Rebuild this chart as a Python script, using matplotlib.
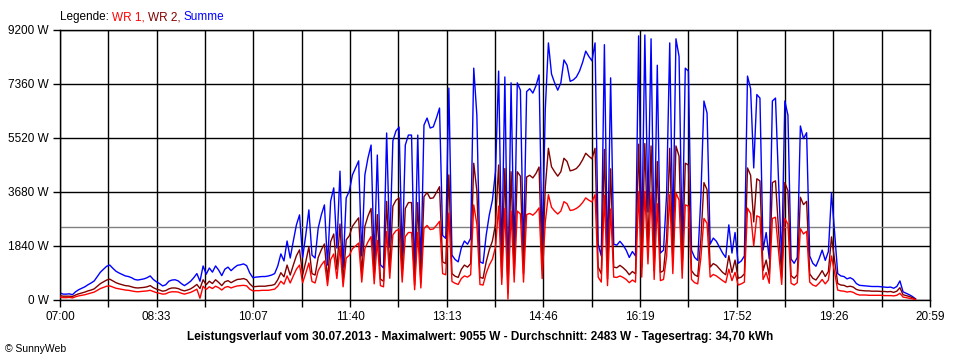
import numpy as np
import matplotlib.pyplot as plt

plt.rcParams['font.family'] = ['Liberation Sans', 'DejaVu Sans']

# Leistung in W, ein Wert alle 3 Minuten ab 07:00
summe = [240, 200, 200, 210, 180, 280, 350, 400, 450, 520,
         580, 650, 800, 950, 1050, 1150, 1190, 1080, 980, 920,
         870, 820, 800, 760, 700, 680, 700, 720, 760, 820,
         700, 620, 560, 480, 520, 640, 680, 690, 650, 560,
         490, 560, 640, 760, 900, 640, 1160, 880, 1090, 950,
         1160, 1020, 830, 1050, 1120, 1000, 1100, 1180, 1200, 1230,
         1170, 920, 760, 780, 790, 800, 800, 820, 850, 900,
         1160, 1570, 1330, 2010, 1430, 2010, 2560, 2900, 1450, 2210,
         3070, 1530, 1430, 2450, 2900, 3240, 1190, 3370, 3820, 1770,
         4390, 1090, 3480, 3710, 4260, 4500, 4740, 1500, 4260, 4840,
         5280, 1330, 4940, 1200, 1090, 5690, 1800, 5420, 5760, 5890,
         1500, 5280, 5620, 5620, 850, 5620, 1000, 5960, 6200, 5860,
         5900, 6200, 6540, 2200, 2100, 7220, 1530, 1380, 1300, 1770,
         2010, 1900, 2100, 7900, 6300, 1300, 1250, 2210, 2900, 3400,
         4390, 7800, 1300, 7600, 400, 7400, 1500, 7400, 7150, 1500,
         7100, 7200, 7050, 7300, 7670, 1770, 6500, 8760, 7700, 7400,
         7150, 7400, 8180, 8000, 7450, 7500, 7600, 7800, 8100, 8480,
         8300, 8150, 8760, 1900, 1500, 8700, 1200, 7570, 1900, 1870,
         2000, 1870, 1700, 1450, 1650, 1500, 9000, 1900, 9030, 3000,
         8900, 1700, 8000, 1600, 1700, 3600, 8760, 2200, 8900, 8300,
         1800, 7900, 7800, 1700, 1450, 1350, 3480, 6780, 6370, 1900,
         2110, 2000, 1800, 1600, 1450, 2560, 1600, 2300, 1250, 1330,
         1500, 7630, 7200, 4500, 7000, 6880, 1700, 2300, 1400, 6780,
         6880, 4000, 1300, 6780, 6300, 1400, 1250, 1450, 5930, 5500,
         5700, 1500, 1250, 1150, 1400, 1700, 1350, 1650, 3650, 2300,
         900, 820, 800, 720, 760, 700, 560, 500, 490, 480,
         470, 460, 460, 460, 450, 440, 430, 440, 400, 460,
         650, 280, 230, 180, 120, 40]

wr2 = [150, 130, 130, 130, 120, 170, 210, 240, 270, 310,
       340, 380, 470, 560, 620, 680, 710, 650, 590, 550,
       520, 490, 480, 450, 420, 410, 420, 430, 450, 490,
       420, 370, 340, 300, 320, 380, 410, 410, 390, 340,
       310, 340, 380, 450, 530, 390, 690, 520, 640, 560,
       690, 600, 490, 620, 660, 590, 650, 700, 710, 730,
       690, 550, 450, 460, 470, 470, 470, 490, 500, 530,
       690, 930, 790, 1190, 850, 1190, 1510, 1710, 860, 1300,
       1810, 900, 850, 1450, 1710, 1910, 700, 1990, 2250, 1040,
       2590, 640, 2050, 2190, 2510, 2660, 2800, 890, 2510, 2860,
       3120, 780, 2910, 710, 640, 3360, 1060, 3200, 3400, 3480,
       890, 3120, 3320, 3320, 500, 3320, 590, 3520, 3660, 3460,
       3480, 3660, 3860, 1300, 1240, 4260, 900, 810, 770, 1040,
       1190, 1120, 1240, 4660, 3720, 770, 740, 1300, 1710, 2010,
       2590, 4600, 770, 4480, 240, 4370, 890, 4370, 4220, 890,
       4190, 4250, 4160, 4310, 4530, 1040, 3840, 5170, 4540, 4370,
       4220, 4370, 4830, 4720, 4400, 4430, 4480, 4600, 4780, 5000,
       4900, 4810, 5170, 1120, 890, 5130, 710, 4470, 1120, 1100,
       1180, 1100, 1000, 860, 970, 890, 5310, 1120, 5330, 1770,
       5250, 1000, 4720, 940, 1000, 2120, 5170, 1300, 5250, 4900,
       1060, 4660, 4600, 1000, 860, 800, 2050, 4000, 3760, 1120,
       1240, 1180, 1060, 940, 860, 1510, 940, 1360, 740, 780,
       890, 4500, 4250, 2660, 4130, 4060, 1000, 1360, 830, 4000,
       4060, 2360, 770, 4000, 3720, 830, 740, 860, 3500, 3250,
       3360, 890, 740, 680, 830, 1000, 800, 970, 2150, 1360,
       560, 510, 500, 450, 470, 440, 360, 330, 320, 310,
       310, 300, 300, 300, 290, 290, 280, 290, 260, 300,
       420, 180, 150, 120, 80, 30]

wr1 = [100, 80, 80, 90, 70, 110, 140, 160, 180, 210,
       240, 270, 330, 390, 430, 470, 480, 440, 400, 380,
       360, 340, 330, 310, 290, 280, 290, 300, 310, 330,
       290, 250, 230, 200, 210, 260, 280, 280, 270, 230,
       200, 230, 260, 310, 370, 60, 470, 360, 450, 390,
       470, 420, 340, 430, 460, 410, 450, 480, 490, 500,
       480, 370, 310, 320, 320, 330, 330, 330, 350, 370,
       470, 640, 540, 820, 580, 820, 1050, 1190, 590, 910,
       1260, 630, 580, 1000, 1190, 1330, 490, 1380, 1570, 730,
       1800, 450, 1430, 1520, 1750, 1840, 1940, 610, 1750, 1980,
       2160, 550, 2030, 490, 450, 2330, 740, 2220, 2360, 2410,
       610, 2160, 2300, 2300, 350, 2300, 410, 2440, 2540, 2400,
       2420, 2540, 2680, 900, 860, 2960, 630, 570, 530, 730,
       820, 780, 860, 3240, 2580, 530, 510, 910, 1190, 1390,
       1800, 3200, 530, 3120, 30, 3030, 610, 3030, 2930, 610,
       2910, 2950, 2890, 2990, 3140, 730, 2660, 3590, 3160, 3030,
       2930, 3030, 3350, 3280, 3050, 3070, 3120, 3200, 3320, 3480,
       3400, 3340, 3590, 780, 610, 3570, 490, 3100, 780, 770,
       820, 770, 700, 590, 680, 610, 3690, 780, 3700, 1230,
       3650, 700, 3280, 660, 700, 1480, 3590, 900, 3650, 3400,
       740, 3240, 3200, 700, 590, 550, 1430, 2780, 2610, 780,
       870, 820, 740, 660, 590, 1050, 660, 940, 510, 550,
       610, 3130, 2950, 1840, 2870, 2820, 700, 940, 570, 2780,
       2820, 1640, 530, 2780, 2580, 570, 510, 590, 2430, 2250,
       2340, 610, 510, 470, 570, 700, 550, 680, 1500, 940,
       340, 310, 300, 270, 290, 260, 200, 170, 170, 170,
       160, 160, 160, 160, 160, 150, 150, 150, 140, 160,
       230, 100, 80, 60, 40, 10]

minutes = np.arange(len(summe)) * 3

x_labels = ["07:00", "08:33", "10:07", "11:40", "13:13",
            "14:46", "16:19", "17:52", "19:26", "20:59"]
y_ticks = [0, 1840, 3680, 5520, 7360, 9200]
durchschnitt = 2483

fig = plt.figure(figsize=(9.6, 3.6), dpi=100)
ax = fig.add_axes([60/960, 60/360, 870/960, 270/360])

ax.axhline(durchschnitt, color='#808080', lw=1, zorder=1.8)
ax.plot(minutes, summe, color='#0000ff', lw=1, zorder=2)
ax.plot(minutes, wr2, color='#800000', lw=1, zorder=3)
ax.plot(minutes, wr1, color='#ff0000', lw=1, zorder=4)

ax.set_xlim(0, 839)
ax.set_ylim(0, 9200)
grid_x = np.linspace(0, 839, 19)
ax.set_xticks(grid_x[::2])
ax.set_xticklabels(x_labels)
ax.set_xticks(grid_x[1::2], minor=True)
ax.set_yticks(y_ticks)
ax.set_yticklabels([f"{v} W" for v in y_ticks])
ax.grid(True, which='both', color='black', lw=1)
ax.tick_params(which='both', length=5, width=1, labelsize=8.5, pad=3)
for s in ax.spines.values():
    s.set_linewidth(1)

# Legende oben links
fig.canvas.draw()
r = fig.canvas.get_renderer()
x = 60 / 960
for txt, col in [("Legende: ", 'black'), ("WR 1, ", '#ff0000'),
                 ("WR 2, ", '#800000'), ("Summe", '#0000ff')]:
    t = fig.text(x, 1 - 17/360, txt, color=col, fontsize=8.5, va='center', ha='left')
    bb = t.get_window_extent(renderer=r)
    x += bb.width / 960

fig.text(0.5, 1 - 337/360,
         "Leistungsverlauf vom 30.07.2013 - Maximalwert: 9055 W - Durchschnitt: 2483 W - Tagesertrag: 34,70 kWh",
         ha='center', va='center', fontsize=8.5, fontweight='bold')
fig.text(5/960, 1 - 349/360, "© SunnyWeb", ha='left', va='center', fontsize=7.5)

fig.savefig("out.png", dpi=100)
